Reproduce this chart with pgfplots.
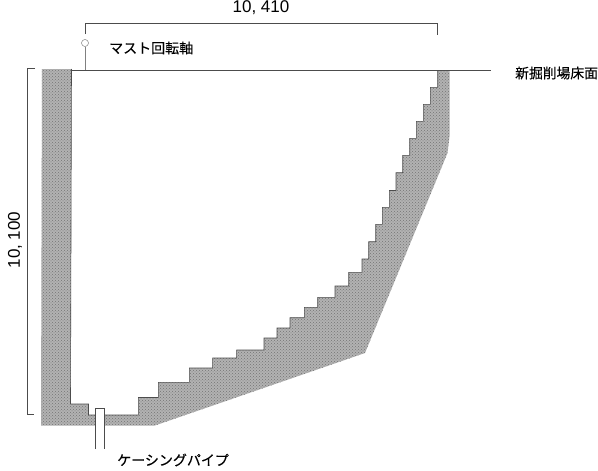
\documentclass[border=0pt]{standalone}
\usepackage{fontspec}
\setmainfont{Liberation Sans}
\newfontfamily\cjk[FakeBold=0.25]{Noto Sans CJK JP}
\usepackage{pgfplots}
\pgfplotsset{compat=1.18}
\usetikzlibrary{patterns}
\definecolor{wallgray}{gray}{0.7}
\definecolor{linegray}{gray}{0.3}
\begin{document}
\begin{tikzpicture}
\begin{axis}[
  scale only axis, width=598pt, height=471pt,
  xmin=0, xmax=598, ymin=0, ymax=471, y dir=reverse,
  hide axis, clip=false,
]
% excavated section, pixel coordinates
\addplot[fill=wallgray, draw=none] coordinates {
  (42,69)(71.5,69)(70.5,404)(88.5,404)(88.5,415)(138.3,415)(138.3,397.5)(158.3,397.5)
  (158.3,382.3)(189.3,382.3)(189.3,368)(212.6,368)(212.6,358)(236.6,358)(236.6,350)
  (264,350)(264,338)(277,338)(277,328)(290,328)(290,317.7)(304.3,317.7)(304.3,307.3)
  (317.7,307.3)(317.7,297.3)(335,297.3)(335,286)(348.7,286)(348.7,272.3)(362,272.3)
  (362,259)(368.7,259)(368.7,241.7)(375.7,241.7)(375.7,224.3)(382.3,224.3)(382.3,207.3)
  (389.3,207.3)(389.3,190.5)(396,190.5)(396,172.7)(402.7,172.7)(402.7,155.3)(409.7,155.3)
  (409.7,138.3)(416.3,138.3)(416.3,121.3)(423.3,121.3)(423.3,104.3)(430.3,104.3)
  (430.3,87.3)(437.7,87.3)(437.7,70)(449.7,70)(449.7,135)(447.5,153)(365,353)(155,425.5)(41,425.5)
} -- cycle;
% speckle over the fill
\addplot[pattern=crosshatch dots, pattern color=black!55, draw=none] coordinates {
  (42,69)(71.5,69)(70.5,404)(88.5,404)(88.5,415)(138.3,415)(138.3,397.5)(158.3,397.5)
  (158.3,382.3)(189.3,382.3)(189.3,368)(212.6,368)(212.6,358)(236.6,358)(236.6,350)
  (264,350)(264,338)(277,338)(277,328)(290,328)(290,317.7)(304.3,317.7)(304.3,307.3)
  (317.7,307.3)(317.7,297.3)(335,297.3)(335,286)(348.7,286)(348.7,272.3)(362,272.3)
  (362,259)(368.7,259)(368.7,241.7)(375.7,241.7)(375.7,224.3)(382.3,224.3)(382.3,207.3)
  (389.3,207.3)(389.3,190.5)(396,190.5)(396,172.7)(402.7,172.7)(402.7,155.3)(409.7,155.3)
  (409.7,138.3)(416.3,138.3)(416.3,121.3)(423.3,121.3)(423.3,104.3)(430.3,104.3)
  (430.3,87.3)(437.7,87.3)(437.7,70)(449.7,70)(449.7,135)(447.5,153)(365,353)(155,425.5)(41,425.5)
} -- cycle;
% stair edge, a bit darker than the fill
\addplot[color=linegray, line width=0.6pt] coordinates {
  (71.5,69)(70.5,404)(88.5,404)(88.5,415)(138.3,415)(138.3,397.5)(158.3,397.5)
  (158.3,382.3)(189.3,382.3)(189.3,368)(212.6,368)(212.6,358)(236.6,358)(236.6,350)
  (264,350)(264,338)(277,338)(277,328)(290,328)(290,317.7)(304.3,317.7)(304.3,307.3)
  (317.7,307.3)(317.7,297.3)(335,297.3)(335,286)(348.7,286)(348.7,272.3)(362,272.3)
  (362,259)(368.7,259)(368.7,241.7)(375.7,241.7)(375.7,224.3)(382.3,224.3)(382.3,207.3)
  (389.3,207.3)(389.3,190.5)(396,190.5)(396,172.7)(402.7,172.7)(402.7,155.3)(409.7,155.3)
  (409.7,138.3)(416.3,138.3)(416.3,121.3)(423.3,121.3)(423.3,104.3)(430.3,104.3)
  (430.3,87.3)(437.7,87.3)(437.7,70)
};
% casing pipe
\addplot[fill=white, draw=none] coordinates {(95.3,408)(104.5,408)(104.5,449)(95.3,449)} -- cycle;
\addplot[color=linegray, line width=0.5pt] coordinates {(95.3,449)(95.3,408)(104.5,408)(104.5,449)};
% floor level and dimension lines
\addplot[color=linegray, line width=0.6pt] coordinates {(71,70)(491,70)};
\addplot[color=linegray, line width=0.6pt] coordinates {(85,34)(85,23)(437.7,23)(437.7,35)};
\addplot[color=linegray, line width=0.6pt] coordinates {(35,68.5)(27,68.5)(27,414.5)(34,414.5)};
% mast axis
\addplot[color=gray, line width=0.6pt] coordinates {(85,47)(85,70)};
\addplot[only marks, mark=o, mark size=3.5pt, mark options={draw=gray, line width=0.5pt, fill=white}] coordinates {(85,43)};
\node[anchor=center, font=\fontsize{17}{17}\selectfont] at (axis cs:261,8) {10, 410};
\node[anchor=center, rotate=90, font=\fontsize{17}{17}\selectfont] at (axis cs:15,240) {10, 100};
\node[anchor=west, inner sep=0pt, font=\fontsize{14}{14}\selectfont\cjk] at (axis cs:109,48) {マスト回転軸};
\node[anchor=west, inner sep=0pt, font=\fontsize{13.8}{14}\selectfont\cjk] at (axis cs:515,73) {新掘削場床面};
\node[anchor=west, inner sep=0pt, font=\fontsize{14}{14}\selectfont\cjk] at (axis cs:117,460) {ケーシングパイプ};
\end{axis}
\pgfresetboundingbox
\useasboundingbox (0,0) rectangle (598pt,471pt);
\end{tikzpicture}
\end{document}
